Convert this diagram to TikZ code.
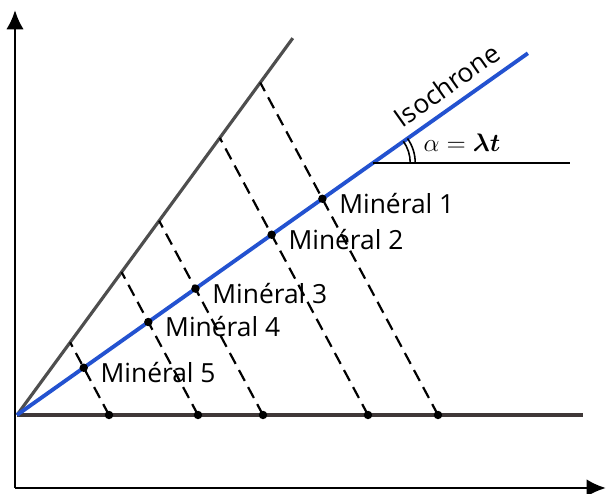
\documentclass[tikz,border=0pt]{standalone}
\usepackage{fontspec}
\setsansfont{Open Sans}
\usepackage{amsmath}
\usepackage{tikz}
\usetikzlibrary{arrows.meta, positioning, calc}
\definecolor{isoblue}{HTML}{2352D0}
\definecolor{refgray}{HTML}{4E4E4E}
\definecolor{basegray}{HTML}{3F3838}
\tikzset{
  axisarr/.style={line width=1.6pt, -{Latex[length=11pt, width=10pt]}},
  refline/.style={line width=1.8pt, refgray},
  isoline/.style={line width=2.2pt, isoblue},
  baseln/.style={line width=2pt, basegray},
  proj/.style={line width=1.25pt, dash pattern=on 7pt off 4pt},
  mdot/.style={circle, fill=black, inner sep=0pt, minimum size=4.8pt},
  minlabel/.style={font=\sffamily\fontsize{15}{18}\selectfont, inner sep=0pt, anchor=west},
  anglearc/.style={line width=0.9pt},
}
\begin{document}
\begin{tikzpicture}
  \useasboundingbox (-0.34,-1.58) rectangle (11.8,8.3);

  %% Axes
  \coordinate (O) at (0,0);
  \coordinate (corner) at (-0.04,-1.46);
  \draw[axisarr] (corner) -- (-0.04,8.1);
  \draw[axisarr] (corner) -- (11.78,-1.46);

  %% Reference lines
  \coordinate (topref) at (53.8:9.34);
  \coordinate (topiso) at (35.3:12.52);
  \draw[baseln] (O) -- (11.32,0);
  \draw[refline] (O) -- (topref);
  \draw[isoline] (O) -- (topiso)
    node[pos=0.865, sloped, above=4pt, text=black, inner sep=1pt,
         font=\sffamily\fontsize{15}{18}\selectfont] (iso) {Isochrone};

  %% Angle
  \coordinate (A) at (35.3:8.73);
  \coordinate (hend) at (11.06,0);
  \draw[line width=1.2pt] (A) -- (A -| hend);
  \foreach \r in {0.74,0.84}
    \draw[anglearc] ([shift={(0:\r)}]A) arc (0:35.3:\r);
  \node[font=\Large] (alpha) at (8.9,5.44) {$\alpha = \boldsymbol{\lambda t}$};

  %% Minerals
  \foreach \b/\n in {8.42/1, 7.02/2, 4.92/3, 3.62/4, 1.84/5} {
    \coordinate (b\n) at (\b,0);
    \coordinate (d\n) at (\b-1,1.87);
    \coordinate (t\n) at (intersection of O--topref and b\n--d\n);
    \coordinate (p\n) at (intersection of O--topiso and b\n--d\n);
    \draw[proj] (b\n) -- (t\n);
    \node[mdot] (q\n) at (b\n) {};
    \node[mdot] (m\n) at (p\n) {};
    \node[minlabel, right=0.24cm of m\n, yshift=-0.1cm] (lab\n) {Minéral \n};
  }
\end{tikzpicture}
\end{document}
